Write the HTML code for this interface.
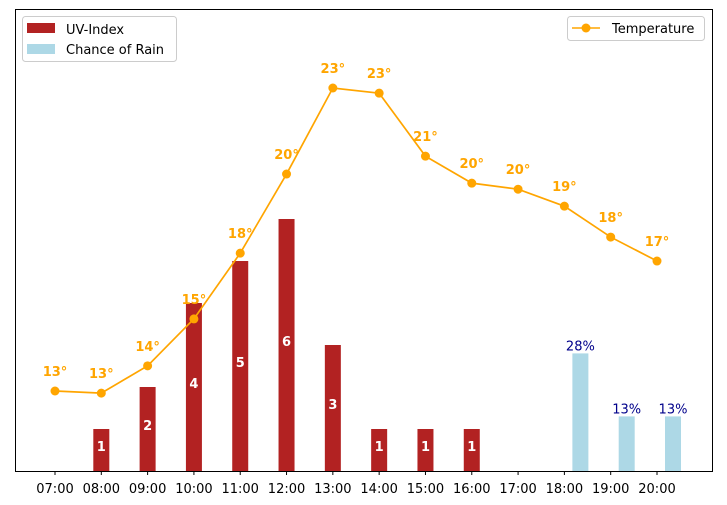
<!DOCTYPE html>
<html><head><meta charset="utf-8"><style>
body{margin:0;background:#fff;}
svg{display:block;font-family:"DejaVu Sans","Liberation Sans",sans-serif;}
</style></head><body>
<svg id="chart" width="727" height="505">
<rect x="0" y="0" width="727" height="505" fill="#fff"/>
<g id="marks"></g>
<rect x="15.5" y="9.5" width="697" height="462" fill="none" stroke="#000" stroke-width="1"/>
<g>
<rect x="22.5" y="16.5" width="154" height="45" rx="3" fill="#fff" stroke="#ccc"/>
<rect x="27" y="23" width="28" height="10" fill="#b22222"/>
<text x="66" y="34" font-size="13">UV-Index</text>
<rect x="27" y="44" width="28" height="10" fill="#add8e6"/>
<text x="66" y="54" font-size="13">Chance of Rain</text>
</g>
<g>
<rect x="567.5" y="16.5" width="137" height="24" rx="3" fill="#fff" stroke="#ccc"/>
<line x1="572" y1="28" x2="600" y2="28" stroke="#ffa500" stroke-width="1.5"/>
<circle cx="586" cy="28" r="4.5" fill="#ffa500"/>
<text x="612" y="33" font-size="13">Temperature</text>
</g>
</svg>
<script>
const hours = ["07:00","08:00","09:00","10:00","11:00","12:00","13:00","14:00","15:00","16:00","17:00","18:00","19:00","20:00"];
const uvIndex = [0,1,2,4,5,6,3,1,1,1,0,0,0,0];
const rainChance = [0,0,0,0,0,0,0,0,0,0,0,28,13,13];
const temperature = [13.0,12.93,13.83,15.38,17.55,20.16,23.0,22.83,20.75,19.86,19.66,19.1,18.08,17.29];

const NS="http://www.w3.org/2000/svg";
const g=document.getElementById('marks');
const x0=55, dx=(657-55)/13, baseY=471;
const xAt=i=>x0+i*dx;
const yUV=v=>baseY-v*42;
const yRain=v=>baseY-v*4.2;
const yT=t=>391-(t-13)*30.3;
const bw=16;
function mk(tag,attrs,txt){const e=document.createElementNS(NS,tag);for(const k in attrs)e.setAttribute(k,attrs[k]);if(txt!==undefined)e.textContent=txt;g.appendChild(e);return e;}

hours.forEach((h,i)=>{
  const x=xAt(i);
  const tk=mk('line',{x1:x,y1:471,x2:x,y2:475,stroke:'#000'});
  
  
  const tl=mk('text',{x:x,y:493,'font-size':13,'text-anchor':'middle'},h);
  
  
  if(uvIndex[i]>0){
    const r=mk('rect',{x:x-bw/2,y:yUV(uvIndex[i]),width:bw,height:baseY-yUV(uvIndex[i]),fill:'#b22222'});
    
    
    const t=mk('text',{x:x,y:(yUV(uvIndex[i])+baseY)/2+1,'font-size':13,'font-weight':'bold',fill:'#fff','text-anchor':'middle'},String(uvIndex[i]));
    
    
  }
  if(rainChance[i]>0){
    const r=mk('rect',{x:x+16-bw/2,y:yRain(rainChance[i]),width:bw,height:baseY-yRain(rainChance[i]),fill:'#add8e6'});
    
    
    const t=mk('text',{x:x+16,y:yRain(rainChance[i])-3,'font-size':13,fill:'#00008b','text-anchor':'middle'},rainChance[i]+'%');
    
    
  }
});
const pts=temperature.map((t,i)=>xAt(i)+','+yT(t)).join(' ');
const pl=mk('polyline',{points:pts,fill:'none',stroke:'#ffa500','stroke-width':1.7});


temperature.forEach((t,i)=>{
  const c=mk('circle',{cx:xAt(i),cy:yT(t),r:4.5,fill:'#ffa500'});
  
  
  const l=mk('text',{x:xAt(i),y:yT(t)-15,'font-size':13,'font-weight':'bold',fill:'#ffa500','text-anchor':'middle'},Math.round(t)+'°');
  
  
});
</script>
</body></html>
